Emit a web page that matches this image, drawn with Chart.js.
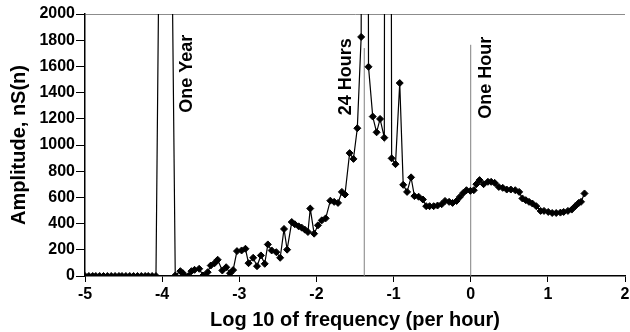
<!DOCTYPE html>
<html>
<head>
<meta charset="utf-8">
<script src="https://cdn.jsdelivr.net/npm/chart.js@4.4.1/dist/chart.umd.min.js"></script>
<style>
  html, body { margin: 0; padding: 0; background: #fff; overflow: hidden; }
</style>
</head>
<body>
<canvas id="chart" width="630" height="332"></canvas>
<script>
// log10 of frequency (per hour) and spectral amplitude nS(n)
const logFreq = [
  -5.00, -4.95, -4.90, -4.86, -4.81, -4.76, -4.71, -4.66, -4.61, -4.56,
  -4.52, -4.47, -4.42, -4.37, -4.32, -4.27, -4.22, -4.18, -4.13, -4.08,
  -3.96, -3.83, -3.764, -3.73, -3.66, -3.62, -3.58, -3.52, -3.47, -3.41,
  -3.37, -3.32, -3.28, -3.22, -3.17, -3.12, -3.08, -3.03, -2.97, -2.92,
  -2.88, -2.82, -2.77, -2.72, -2.67, -2.63, -2.58, -2.52, -2.47, -2.42,
  -2.38, -2.32, -2.28, -2.23, -2.19, -2.15, -2.11, -2.08, -2.03, -1.98,
  -1.93, -1.88, -1.82, -1.77, -1.72, -1.67, -1.63, -1.57, -1.52, -1.47,
  -1.42, -1.38, -1.325, -1.27, -1.22, -1.175, -1.12, -1.08, -1.025, -0.975,
  -0.92, -0.875, -0.825, -0.773, -0.73, -0.675, -0.62, -0.577, -0.533, -0.48,
  -0.43, -0.376, -0.333, -0.28, -0.235, -0.183, -0.14, -0.097, -0.055, -0.004,
  0.04, 0.073, 0.115, 0.167, 0.223, 0.265, 0.31, 0.364, 0.415, 0.467,
  0.52, 0.577, 0.628, 0.67, 0.714, 0.756, 0.8, 0.85, 0.906, 0.95,
  1.005, 1.056, 1.108, 1.163, 1.205, 1.26, 1.31, 1.355, 1.4, 1.43,
  1.475
];
const amplitude = [
  0, 0, 0, 0, 0, 0, 0, 0, 0, 0,
  0, 0, 0, 0, 0, 0, 0, 0, 0, 0,
  7600, 4, 37, 21, 0, 37, 47, 55, 4, 29,
  80, 98, 124, 42, 67, 21, 45, 190, 195, 208,
  98, 139, 75, 157, 93, 241, 195, 182, 139, 359,
  201, 412, 395, 379, 369, 354, 336, 515, 323, 387,
  425, 440, 575, 566, 558, 642, 622, 938, 894, 1128,
  1825, 20000, 1597, 1217, 1097, 1199, 1056, 20000, 898, 854,
  1473, 696, 642, 753, 610, 605, 584, 533, 533, 533,
  538, 548, 573, 566, 558, 573, 604, 634, 655, 650,
  655, 701, 732, 701, 719, 719, 711, 680, 673, 660,
  660, 655, 642, 592, 579, 566, 553, 533, 497, 497,
  489, 481, 481, 484, 489, 497, 507, 533, 558, 566,
  630
];

// reference periods: vertical marker lines and their labels
const markerX = [-1.38, 0];
const markerTop = [1740, 1765];
const noteText = ['One Year', '24 Hours', 'One Hour'];
const noteX = [-3.68, -1.61, 0.195];
const noteY = [1544, 1521, 1513];

const FONT = "'Liberation Sans', Arial, sans-serif";

const points = logFreq.map((x, i) => ({ x: x, y: amplitude[i] }));

const markerSets = markerX.map((x, i) => ({
  data: [{ x: x, y: 0 }, { x: x, y: markerTop[i] }],
  borderColor: '#808080',
  borderWidth: 1,
  pointRadius: 0,
  showLine: true
}));

// rotated text labels for the periods
const notesPlugin = {
  id: 'notes',
  afterDatasetsDraw(chart) {
    const { ctx, scales } = chart;
    ctx.save();
    ctx.fillStyle = '#000';
    ctx.font = 'bold 18px ' + FONT;
    ctx.textAlign = 'center';
    ctx.textBaseline = 'middle';
    noteText.forEach((t, i) => {
      ctx.save();
      ctx.translate(scales.x.getPixelForValue(noteX[i]), scales.y.getPixelForValue(noteY[i]));
      ctx.rotate(-Math.PI / 2);
      ctx.fillText(t, 0, 0);
      ctx.restore();
    });
    ctx.restore();
  }
};

new Chart(document.getElementById('chart'), {
  type: 'scatter',
  data: {
    datasets: [
      {
        data: points,
        showLine: true,
        borderColor: '#000',
        borderWidth: 1.2,
        pointStyle: 'rectRot',
        pointRadius: 3.5,
        pointBorderWidth: 1,
        pointBackgroundColor: '#000',
        pointBorderColor: '#000'
      },
      ...markerSets
    ]
  },
  options: {
    responsive: false,
    animation: false,
    layout: { padding: { top: 14, right: 0, bottom: 0, left: 0 } },
    plugins: {
      legend: { display: false },
      tooltip: { enabled: false }
    },
    scales: {
      x: {
        type: 'linear',
        min: -5,
        max: 2,
        ticks: {
          stepSize: 1,
          color: '#000',
          padding: 3,
          font: { family: FONT, size: 16, weight: 'bold' },
          callback: (v) => String(v)
        },
        grid: { color: 'rgba(0,0,0,0)', tickColor: '#000', tickLength: 6 },
        border: { color: '#000', width: 1.5 },
        title: {
          display: true,
          text: 'Log 10 of frequency (per hour)',
          color: '#000',
          padding: { top: 0, bottom: 0 },
          font: { family: FONT, size: 20, weight: 'bold', lineHeight: 1.2 }
        },
        afterFit: (scale) => {
          scale.height = 56;
          scale.paddingRight = 0;
        }
      },
      y: {
        min: 0,
        max: 2000,
        ticks: {
          stepSize: 200,
          color: '#000',
          padding: 1,
          font: { family: FONT, size: 16, weight: 'bold' },
          callback: (v) => String(v)
        },
        grid: {
          color: (c) => (c.tick && c.tick.value === 2000 ? '#8c8c8c' : 'rgba(0,0,0,0)'),
          tickColor: '#000',
          tickLength: 9
        },
        border: { color: '#000', width: 1.5 },
        title: {
          display: true,
          text: 'Amplitude, nS(n)',
          color: '#000',
          padding: { top: 7, bottom: 0 },
          font: { family: FONT, size: 20, weight: 'bold', lineHeight: 1.2 }
        },
        afterFit: (scale) => {
          scale.width = 85;
        }
      }
    }
  },
  plugins: [notesPlugin]
});
</script>
</body>
</html>
